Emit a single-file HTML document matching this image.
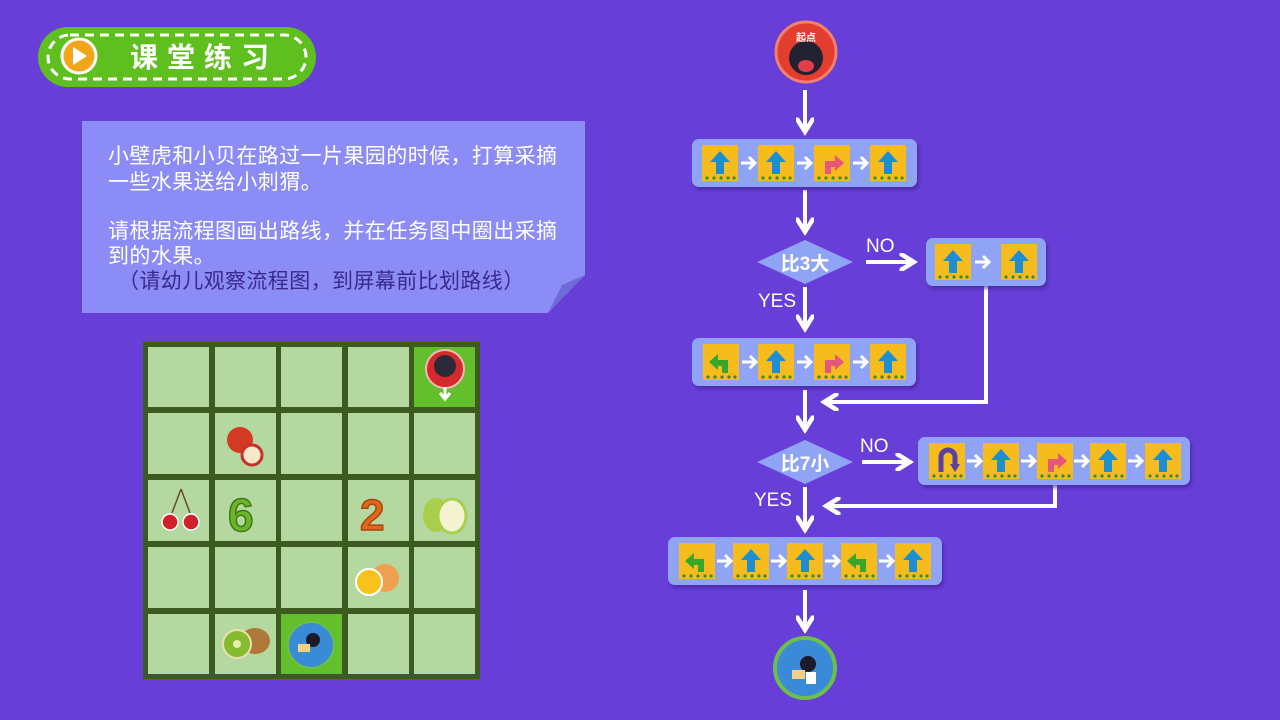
<!DOCTYPE html>
<html><head><meta charset="utf-8"><style>
html,body{margin:0;padding:0;background:#673ed8;}
svg{display:block;}
text{font-family:"Liberation Sans","Noto Sans CJK SC",sans-serif;}
</style></head><body>
<svg width="1280" height="720" viewBox="0 0 1280 720" xmlns="http://www.w3.org/2000/svg">
<defs>
 <g id="base"><rect width="36" height="36" fill="#f6bb1c"/>
  <g fill="#3f8a1e"><circle cx="5" cy="33" r="1.6"/><circle cx="12" cy="33" r="1.6"/><circle cx="19" cy="33" r="1.6"/><circle cx="26" cy="33" r="1.6"/><circle cx="32" cy="33" r="1.6"/></g></g>
 <g id="up"><use href="#base"/><path d="M18 6 L28 17 L22 17 L22 29 L14 29 L14 17 L8 17Z" fill="#1c8fd2"/></g>
 <g id="rt"><use href="#base"/><path d="M11 29 V16 H21 V10 L30 18 L21 26 V22 H17 V29Z" fill="#e8567a"/></g>
 <g id="lt"><use href="#base"/><path d="M25 29 V16 H15 V10 L6 18 L15 26 V22 H19 V29Z" fill="#38a62a"/></g>
 <g id="ut"><use href="#base"/><path d="M12 29 V14 a7 7 0 0 1 14 0 V24" fill="none" stroke="#5b3fa3" stroke-width="5"/><path d="M21 21 L26 29 L31 21Z" fill="#5b3fa3"/></g>
 <g id="sa"><path d="M-1 0 H13 M7 -6 L13 0 L7 6" stroke="#fff" stroke-width="3" fill="none"/></g>
 <marker id="ah" viewBox="0 0 10 10" refX="7" refY="5" markerWidth="4.5" markerHeight="4.5" orient="auto"><path d="M0 0 L8 5 L0 10" fill="none" stroke="#fff" stroke-width="2.5"/></marker>
 <filter id="sh" x="-5%" y="-10%" width="110%" height="130%"><feDropShadow dx="2" dy="3" stdDeviation="1.5" flood-color="#3a1e90" flood-opacity="0.6"/></filter>
</defs>

<!-- title -->
<rect x="38" y="27" width="278" height="60" rx="30" fill="#5fbf1f"/>
<rect x="48" y="35" width="258" height="44" rx="22" fill="none" stroke="#fff" stroke-width="3" stroke-dasharray="9 6"/>
<circle cx="79" cy="56" r="17" fill="#f3a51a" stroke="#fff" stroke-width="3"/>
<path d="M73 47 L87 56 L73 65Z" fill="#fff"/>
<text x="130" y="67" font-size="28" font-weight="bold" fill="#fff" letter-spacing="9">课堂练习</text>

<!-- note -->
<path d="M82 121 H585 V275 L548 313 H82Z" fill="#8c8cf7"/>
<path d="M585 275 L548 313 L562 285Z" fill="#6e6ad8"/>
<g font-size="21" fill="#fff" letter-spacing="0.4">
<text x="108" y="163">小壁虎和小贝在路过一片果园的时候，打算采摘</text>
<text x="108" y="189">一些水果送给小刺猬。</text>
<text x="108" y="238">请根据流程图画出路线，并在任务图中圈出采摘</text>
<text x="108" y="263">到的水果。</text>
<text x="118" y="288" fill="#3b2a8c">（请幼儿观察流程图，到屏幕前比划路线）</text>
</g>

<!-- grid -->
<rect x="143" y="342" width="337" height="337" fill="#3d5a20"/>
<g fill="#b4d8a0">
<rect x="148" y="347" width="61" height="60"/><rect x="215" y="347" width="61" height="60"/><rect x="281" y="347" width="61" height="60"/><rect x="348" y="347" width="61" height="60"/><rect x="414" y="347" width="61" height="60" fill="#64bf2c"/>
<rect x="148" y="413" width="61" height="61"/><rect x="215" y="413" width="61" height="61"/><rect x="281" y="413" width="61" height="61"/><rect x="348" y="413" width="61" height="61"/><rect x="414" y="413" width="61" height="61"/>
<rect x="148" y="480" width="61" height="61"/><rect x="215" y="480" width="61" height="61"/><rect x="281" y="480" width="61" height="61"/><rect x="348" y="480" width="61" height="61"/><rect x="414" y="480" width="61" height="61"/>
<rect x="148" y="547" width="61" height="61"/><rect x="215" y="547" width="61" height="61"/><rect x="281" y="547" width="61" height="61"/><rect x="348" y="547" width="61" height="61"/><rect x="414" y="547" width="61" height="61"/>
<rect x="148" y="614" width="61" height="60"/><rect x="215" y="614" width="61" height="60"/><rect x="281" y="614" width="61" height="60" fill="#64bf2c"/><rect x="348" y="614" width="61" height="60"/><rect x="414" y="614" width="61" height="60"/>
</g>
<circle cx="445" cy="369" r="19" fill="#d52a2a" stroke="#f4b8b8" stroke-width="2"/><circle cx="445" cy="366" r="11" fill="#2a2a3a"/>
<path d="M440 393 L445 399 L450 393 M445 387 V399" stroke="#fff" stroke-width="3" fill="none"/>
<circle cx="240" cy="440" r="13" fill="#d43a23"/><circle cx="252" cy="455" r="10" fill="#f8e7c8" stroke="#c8322a" stroke-width="3"/>
<path d="M181 489 L172 513 M181 489 L190 513" stroke="#6b4a2a" stroke-width="1.5" fill="none"/>
<circle cx="170" cy="522" r="8" fill="#d0202a" stroke="#fff" stroke-width="1.5"/><circle cx="191" cy="522" r="8" fill="#d0202a" stroke="#fff" stroke-width="1.5"/>
<text x="228" y="531" font-size="46" font-weight="bold" fill="#6cb52a" stroke="#3d7a16" stroke-width="1.5">6</text>
<text x="360" y="530" font-size="44" font-weight="bold" fill="#e0681a" stroke="#a84510" stroke-width="1.5">2</text>
<ellipse cx="436" cy="515" rx="13" ry="17" fill="#a8cf4a"/><ellipse cx="452" cy="516" rx="14" ry="17" fill="#f3f3d2" stroke="#a8cf4a" stroke-width="3"/>
<circle cx="385" cy="578" r="14" fill="#f0a050"/><circle cx="369" cy="582" r="13" fill="#f8c21c" stroke="#fff" stroke-width="2"/>
<ellipse cx="255" cy="641" rx="15" ry="13" fill="#b07838"/><circle cx="237" cy="644" r="14" fill="#86bb2e" stroke="#e8e0b0" stroke-width="2"/><circle cx="237" cy="644" r="4" fill="#e8f0b0"/>
<circle cx="311" cy="645" r="23" fill="#3a8bd6" stroke="#6cc04a" stroke-width="2"/><circle cx="313" cy="640" r="7" fill="#1a1a2a"/><rect x="298" y="644" width="12" height="8" fill="#f5d080"/>

<!-- flowchart -->
<g stroke="#fff" stroke-width="4" fill="none" marker-end="url(#ah)">
<path d="M805 90 V130"/><path d="M805 190 V230"/><path d="M805 287 V327"/><path d="M805 390 V428"/><path d="M805 487 V528"/><path d="M805 590 V628"/>
<path d="M866 262 H912"/><path d="M862 462 H908"/>
<path d="M986 286 V402 H826"/><path d="M1055 485 V506 H828"/>
</g>
<circle cx="806" cy="52" r="30" fill="#e23d2e" stroke="#f08070" stroke-width="3"/>
<circle cx="806" cy="58" r="17" fill="#222233"/><ellipse cx="806" cy="66" rx="8" ry="6" fill="#e23d4a"/>
<text x="806" y="41" font-size="10" font-weight="bold" fill="#fff" text-anchor="middle">起点</text>
<circle cx="805" cy="668" r="30" fill="#3a8ad8" stroke="#6cc04a" stroke-width="4"/>
<circle cx="808" cy="664" r="8" fill="#1a1a2a"/><rect x="792" y="670" width="13" height="9" fill="#f5d080"/><rect x="806" y="672" width="10" height="12" fill="#fff"/>

<g fill="#90a4f6" filter="url(#sh)">
<rect x="692" y="139" width="225" height="48" rx="7"/>
<rect x="926" y="238" width="120" height="48" rx="7"/>
<rect x="692" y="338" width="224" height="48" rx="7"/>
<rect x="918" y="437" width="272" height="48" rx="7"/>
<rect x="668" y="537" width="274" height="48" rx="7"/>
</g>
<g fill="#90a4f6">
<path d="M757 262 L805 240 L853 262 L805 284Z"/>
<path d="M757 462 L805 440 L853 462 L805 484Z"/>
</g>
<text x="805" y="270" font-size="19" font-weight="bold" fill="#fff" text-anchor="middle">比3大</text>
<text x="805" y="470" font-size="19" font-weight="bold" fill="#fff" text-anchor="middle">比7小</text>
<g font-size="19" fill="#fff">
<text x="866" y="252">NO</text><text x="758" y="307">YES</text>
<text x="860" y="452">NO</text><text x="754" y="506">YES</text>
</g>

<use href="#up" x="702" y="145"/><use href="#sa" x="742" y="163"/>
<use href="#up" x="758" y="145"/><use href="#sa" x="798" y="163"/>
<use href="#rt" x="814" y="145"/><use href="#sa" x="854" y="163"/>
<use href="#up" x="870" y="145"/>

<use href="#up" x="935" y="244"/><use href="#sa" x="976" y="262"/>
<use href="#up" x="1001" y="244"/>

<use href="#lt" x="703" y="344"/><use href="#sa" x="743" y="362"/>
<use href="#up" x="758" y="344"/><use href="#sa" x="798" y="362"/>
<use href="#rt" x="814" y="344"/><use href="#sa" x="854" y="362"/>
<use href="#up" x="870" y="344"/>

<use href="#ut" x="929" y="443"/><use href="#sa" x="968" y="461"/>
<use href="#up" x="983" y="443"/><use href="#sa" x="1022" y="461"/>
<use href="#rt" x="1037" y="443"/><use href="#sa" x="1075" y="461"/>
<use href="#up" x="1090" y="443"/><use href="#sa" x="1129" y="461"/>
<use href="#up" x="1145" y="443"/>

<use href="#lt" x="679" y="543"/><use href="#sa" x="718" y="561"/>
<use href="#up" x="733" y="543"/><use href="#sa" x="772" y="561"/>
<use href="#up" x="787" y="543"/><use href="#sa" x="826" y="561"/>
<use href="#lt" x="841" y="543"/><use href="#sa" x="880" y="561"/>
<use href="#up" x="895" y="543"/>
</svg>
</body></html>
